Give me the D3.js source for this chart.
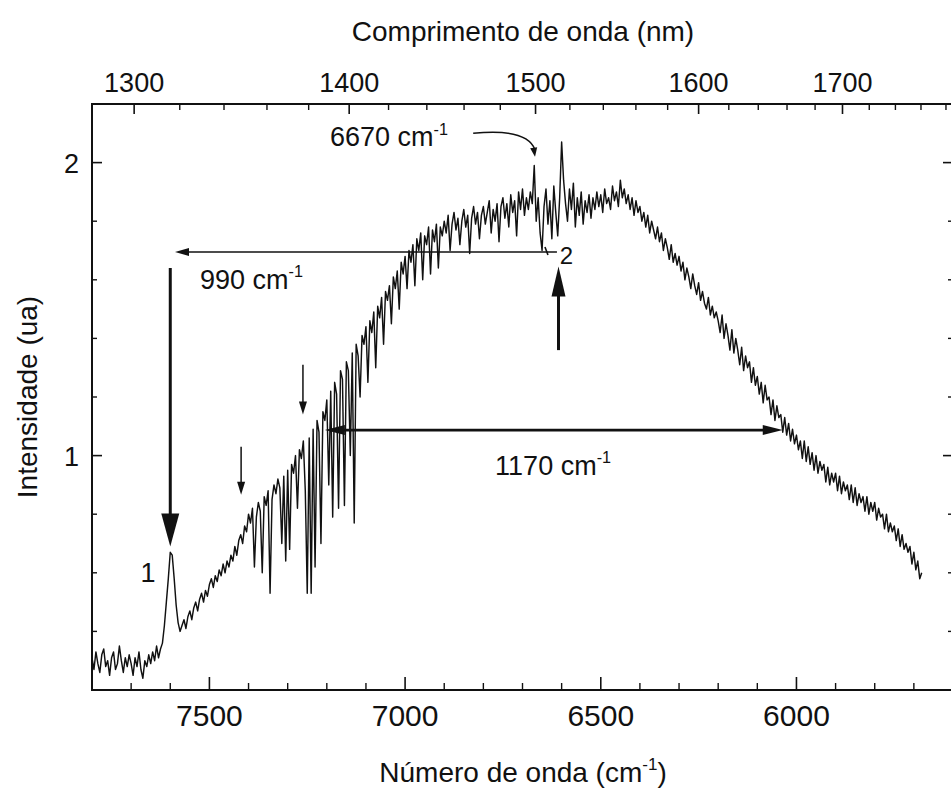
<!DOCTYPE html>
<html><head><meta charset="utf-8">
<script src="https://cdn.jsdelivr.net/npm/d3@7"></script>
<style>
body{margin:0;background:#fff}
svg{display:block}
text{font-family:"Liberation Sans",Arial,Helvetica,sans-serif;fill:#111}
</style>
</head><body>
<svg id="c" width="951" height="790"></svg>
<script>
// ---------------- DATA ----------------
// wavenumber grid (cm^-1), 5 cm^-1 step, 7800 -> 5680
const wavenumber = d3.range(7800, 5677, -5);
// intensity (a.u.), one value per grid point (20 per 100 cm^-1)
const intensity = [
  0.31,0.27,0.33,0.29,0.26,0.32,0.34,0.28,0.30,0.25, 0.31,0.33,0.27,0.29,0.35,0.30,0.26,0.31,0.28,0.32, // 7800-7705
  0.29,0.25,0.31,0.28,0.33,0.27,0.24,0.30,0.28,0.32, 0.29,0.33,0.30,0.35,0.31,0.34,0.36,0.42,0.50,0.58, // 7700-7605
  0.67,0.66,0.58,0.49,0.43,0.40,0.42,0.44,0.41,0.45, 0.47,0.44,0.48,0.50,0.47,0.51,0.53,0.50,0.54,0.52, // 7600-7505
  0.56,0.58,0.55,0.59,0.57,0.61,0.59,0.63,0.60,0.64, 0.62,0.66,0.64,0.69,0.66,0.71,0.73,0.70,0.76,0.74, // 7500-7405
  0.80,0.77,0.82,0.62,0.79,0.84,0.81,0.60,0.86,0.83, 0.88,0.53,0.85,0.90,0.87,0.92,0.89,0.70,0.93,0.64, // 7400-7305
  0.95,0.68,0.97,0.94,1.00,0.82,1.02,0.99,1.05,0.88, 0.53,1.06,0.53,1.09,0.62,1.12,1.08,0.70,1.15,1.12, // 7300-7205
  1.19,0.90,1.22,0.79,1.25,1.21,0.82,1.29,1.26,0.83, 1.32,1.29,1.00,1.35,0.77,1.38,1.34,1.20,1.41,1.38, // 7200-7105
  1.44,1.25,1.46,1.42,1.49,1.30,1.51,1.47,1.54,1.38, 1.56,1.53,1.58,1.45,1.61,1.57,1.63,1.50,1.66,1.62, // 7100-7005
  1.68,1.57,1.70,1.66,1.72,1.58,1.74,1.70,1.76,1.60, 1.75,1.72,1.78,1.62,1.77,1.73,1.79,1.64,1.78,1.75, // 7000-6905
  1.80,1.76,1.82,1.70,1.79,1.83,1.77,1.81,1.72,1.80, 1.84,1.78,1.82,1.69,1.81,1.85,1.79,1.83,1.74,1.82, // 6900-6805
  1.85,1.79,1.83,1.87,1.76,1.84,1.80,1.86,1.73,1.85, 1.88,1.81,1.86,1.78,1.89,1.83,1.87,1.75,1.90,1.84, // 6800-6705
  1.91,1.82,1.88,1.84,1.90,1.86,1.99,1.80,1.88,1.76, 1.70,1.85,1.91,1.79,1.87,1.74,1.92,1.83,1.75,1.88, // 6700-6605
  2.07,1.94,1.86,1.80,1.91,1.84,1.93,1.78,1.88,1.82, 1.90,1.79,1.87,1.83,1.89,1.81,1.88,1.84,1.90,1.85, // 6600-6505
  1.89,1.83,1.91,1.86,1.88,1.84,1.92,1.87,1.90,1.85, 1.94,1.88,1.91,1.86,1.89,1.84,1.88,1.82,1.87,1.83, // 6500-6405
  1.85,1.80,1.83,1.78,1.82,1.76,1.80,1.77,1.74,1.78, 1.73,1.76,1.70,1.74,1.71,1.67,1.72,1.66,1.69,1.65, // 6400-6305
  1.68,1.63,1.66,1.60,1.64,1.61,1.57,1.62,1.58,1.55, 1.59,1.53,1.56,1.52,1.50,1.54,1.48,1.51,1.47,1.49, // 6300-6205
  1.46,1.42,1.48,1.40,1.45,1.41,1.36,1.43,1.35,1.40, 1.36,1.31,1.37,1.29,1.34,1.30,1.32,1.25,1.30,1.24, // 6200-6105
  1.27,1.21,1.25,1.18,1.24,1.19,1.20,1.14,1.19,1.12, 1.17,1.13,1.14,1.08,1.13,1.07,1.11,1.05,1.09,1.04, // 6100-6005
  1.07,1.02,1.05,0.99,1.05,0.98,1.03,0.97,1.01,0.95, 1.00,0.94,0.98,0.95,0.97,0.91,0.96,0.90,0.94,0.91, // 6000-5905
  0.94,0.88,0.93,0.87,0.91,0.88,0.90,0.85,0.90,0.84, 0.89,0.83,0.87,0.84,0.86,0.81,0.86,0.80,0.84,0.81, // 5900-5805
  0.84,0.78,0.82,0.79,0.80,0.75,0.80,0.74,0.77,0.74, 0.76,0.71,0.75,0.69,0.73,0.68,0.70,0.67,0.69,0.63, // 5800-5705
  0.67,0.61,0.64,0.58,0.60                                                                             // 5700-5680
];
const xDomain = [7800, 5600];
const yDomain = [0.2, 2.2];
const bottomMajor = [7500, 7000, 6500, 6000];
const bottomMinor = [7700, 7600, 7400, 7300, 7200, 7100, 6900, 6800, 6700, 6600, 6400, 6300, 6200, 6100, 5900, 5800, 5700];
const topMajorNm = [1300, 1400, 1500, 1600, 1700];
const topMinorNm = [1320, 1340, 1360, 1380, 1420, 1440, 1460, 1480, 1520, 1540, 1560, 1580, 1620, 1640, 1660, 1680, 1720, 1740, 1760, 1780];
const yMajor = [1, 2];
const yMinor = [0.4, 0.6, 0.8, 1.2, 1.4, 1.6, 1.8];

// annotations (data units)
const peak1Arrow = {x: 7600, from: 1.64, to: 0.69};
const peak1Label = {x: 7657, y: 0.57, text: "1"};
const span990 = {x0: 7588, x1: 6612, y: 1.695, labelX: 7524, labelY: 1.57};
const peak2Arrow = {x: 6608, from: 1.36, to: 1.645};
const peak2Label = {x: 6588, y: 1.655, text: "2"};
const span1170 = {x0: 7205, x1: 6035, y: 1.087, labelX: 6770, labelY: 0.935};
const smallArrows = [{x: 7261, from: 1.31, to: 1.14}, {x: 7419, from: 1.03, to: 0.866}];
const note6670 = {textX: 7192, textY: 2.055, fromX: 6826, fromY: 2.10, toX: 6668, toY: 2.02};

// ---------------- LAYOUT ----------------
const svg = d3.select("#c");
const x = d3.scaleLinear().domain(xDomain).range([92, 953]);
const y = d3.scaleLinear().domain(yDomain).range([690, 104]);
const ink = "#111";

// spectrum
const pts = wavenumber.map((w, i) => [w, intensity[i]]);
svg.append("path")
  .datum(pts)
  .attr("fill", "none")
  .attr("stroke", ink)
  .attr("stroke-width", 1.45)
  .attr("stroke-linejoin", "round")
  .attr("d", d3.line().x(d => x(d[0])).y(d => y(d[1])));

// frame
svg.append("rect")
  .attr("x", x(xDomain[0])).attr("y", y(yDomain[1]))
  .attr("width", x(xDomain[1]) - x(xDomain[0]))
  .attr("height", y(yDomain[0]) - y(yDomain[1]))
  .attr("fill", "none").attr("stroke", ink).attr("stroke-width", 2);

// bottom axis ticks (inward)
const yb = y(yDomain[0]), yt = y(yDomain[1]);
bottomMajor.forEach(v => svg.append("line").attr("x1", x(v)).attr("x2", x(v)).attr("y1", yb).attr("y2", yb - 13).attr("stroke", ink).attr("stroke-width", 1.6));
bottomMinor.forEach(v => svg.append("line").attr("x1", x(v)).attr("x2", x(v)).attr("y1", yb).attr("y2", yb - 7).attr("stroke", ink).attr("stroke-width", 1.4));
svg.selectAll(".bl").data(bottomMajor).enter().append("text")
  .attr("x", d => x(d)).attr("y", 726).attr("text-anchor", "middle")
  .attr("font-size", 30).text(d => d);

// top axis (wavelength nm, nonlinear)
const nm2x = nm => x(1e7 / nm);
topMajorNm.forEach(v => svg.append("line").attr("x1", nm2x(v)).attr("x2", nm2x(v)).attr("y1", yt).attr("y2", yt + 10).attr("stroke", ink).attr("stroke-width", 1.6));
topMinorNm.forEach(v => svg.append("line").attr("x1", nm2x(v)).attr("x2", nm2x(v)).attr("y1", yt).attr("y2", yt + 6).attr("stroke", ink).attr("stroke-width", 1.4));
svg.selectAll(".tl").data(topMajorNm).enter().append("text")
  .attr("x", d => nm2x(d)).attr("y", 92).attr("text-anchor", "middle")
  .attr("font-size", 27).text(d => d);

// left/right axes ticks
const xl = x(xDomain[0]), xr = x(xDomain[1]);
yMajor.forEach(v => {
  svg.append("line").attr("x1", xl).attr("x2", xl + 10).attr("y1", y(v)).attr("y2", y(v)).attr("stroke", ink).attr("stroke-width", 1.6);
  svg.append("line").attr("x1", xr).attr("x2", xr - 10).attr("y1", y(v)).attr("y2", y(v)).attr("stroke", ink).attr("stroke-width", 1.6);
});
yMinor.forEach(v => {
  svg.append("line").attr("x1", xl).attr("x2", xl + 5).attr("y1", y(v)).attr("y2", y(v)).attr("stroke", ink).attr("stroke-width", 1.4);
  svg.append("line").attr("x1", xr).attr("x2", xr - 5).attr("y1", y(v)).attr("y2", y(v)).attr("stroke", ink).attr("stroke-width", 1.4);
});
svg.selectAll(".yl").data(yMajor).enter().append("text")
  .attr("x", 79).attr("y", d => y(d) + 10).attr("text-anchor", "end")
  .attr("font-size", 27).text(d => d);

// axis titles
const bt = svg.append("text").attr("x", 523).attr("y", 782).attr("text-anchor", "middle").attr("font-size", 28);
bt.append("tspan").text("Número de onda (cm");
bt.append("tspan").attr("font-size", 17).attr("dy", -12).text("-1");
bt.append("tspan").attr("dy", 12).text(")");
svg.append("text").attr("x", 523).attr("y", 41).attr("text-anchor", "middle").attr("font-size", 28).text("Comprimento de onda (nm)");
svg.append("text").attr("transform", "translate(37,397) rotate(-90)").attr("text-anchor", "middle").attr("font-size", 28).text("Intensidade (ua)");

// helpers
function arrowHead(tipX, tipY, dirX, dirY, len, half) {
  const bx = tipX - dirX * len, by = tipY - dirY * len;
  const px = -dirY, py = dirX;
  return `M${tipX},${tipY}L${bx + px * half},${by + py * half}L${bx - px * half},${by - py * half}Z`;
}
function cmLabel(xp, yp, num, size) {
  const t = svg.append("text").attr("x", xp).attr("y", yp).attr("font-size", size);
  t.append("tspan").text(num + " cm");
  t.append("tspan").attr("font-size", size * 0.6).attr("dy", -size * 0.42).text("-1");
  return t;
}

// arrow to peak 1 (big, pointing down)
{
  const xp = x(peak1Arrow.x), y0 = y(peak1Arrow.from), y1 = y(peak1Arrow.to);
  svg.append("line").attr("x1", xp).attr("x2", xp).attr("y1", y0).attr("y2", y1 - 20).attr("stroke", ink).attr("stroke-width", 3);
  svg.append("path").attr("d", arrowHead(xp, y1, 0, 1, 33, 9)).attr("fill", ink);
  svg.append("text").attr("x", x(peak1Label.x)).attr("y", y(peak1Label.y)).attr("text-anchor", "middle").attr("font-size", 27).text(peak1Label.text);
}
// 990 cm-1 span
{
  const x0 = x(span990.x0), x1 = x(span990.x1), yp = y(span990.y);
  svg.append("line").attr("x1", x0 + 6).attr("x2", x1).attr("y1", yp).attr("y2", yp).attr("stroke", ink).attr("stroke-width", 1.6);
  svg.append("path").attr("d", arrowHead(x0, yp, -1, 0, 14, 4)).attr("fill", ink);
  svg.append("path").attr("d", `M${x1 - 12},${yp - 5}L${x1 - 9},${yp + 3}`).attr("stroke", ink).attr("stroke-width", 1.6).attr("fill", "none");
  cmLabel(x(span990.labelX), y(span990.labelY), "990", 27);
  svg.append("text").attr("x", x(peak2Label.x)).attr("y", y(peak2Label.y)).attr("text-anchor", "middle").attr("font-size", 24).text(peak2Label.text);
}
// arrow to peak 2 (bold, pointing up)
{
  const xp = x(peak2Arrow.x), y0 = y(peak2Arrow.from), y1 = y(peak2Arrow.to);
  svg.append("line").attr("x1", xp).attr("x2", xp).attr("y1", y0).attr("y2", y1 + 20).attr("stroke", ink).attr("stroke-width", 3);
  svg.append("path").attr("d", arrowHead(xp, y1, 0, -1, 30, 7)).attr("fill", ink);
}
// 1170 cm-1 double arrow
{
  const x0 = x(span1170.x0), x1 = x(span1170.x1), yp = y(span1170.y);
  svg.append("line").attr("x1", x0 + 12).attr("x2", x1 - 12).attr("y1", yp).attr("y2", yp).attr("stroke", ink).attr("stroke-width", 2.6);
  svg.append("path").attr("d", arrowHead(x0, yp, -1, 0, 20, 5)).attr("fill", ink);
  svg.append("path").attr("d", arrowHead(x1, yp, 1, 0, 20, 5)).attr("fill", ink);
  cmLabel(x(span1170.labelX), y(span1170.labelY), "1170", 27);
}
// small thin arrows
smallArrows.forEach(a => {
  const xp = x(a.x), y0 = y(a.from), y1 = y(a.to);
  svg.append("line").attr("x1", xp).attr("x2", xp).attr("y1", y0).attr("y2", y1 - 8).attr("stroke", ink).attr("stroke-width", 1.5);
  svg.append("path").attr("d", arrowHead(xp, y1, 0, 1, 13, 4)).attr("fill", ink);
});
// 6670 cm-1 note with curved arrow
{
  cmLabel(x(note6670.textX), y(note6670.textY), "6670", 27);
  const fx = x(note6670.fromX), fy = y(note6670.fromY), tx = x(note6670.toX), ty = y(note6670.toY);
  svg.append("path")
    .attr("d", `M${fx},${fy}C${fx + 30},${fy - 3} ${tx - 6},${fy} ${tx},${ty - 7}`)
    .attr("fill", "none").attr("stroke", ink).attr("stroke-width", 1.5);
  svg.append("path").attr("d", arrowHead(tx, ty, 0.15, 1, 9, 3.5)).attr("fill", ink);
}
</script>
</body></html>
